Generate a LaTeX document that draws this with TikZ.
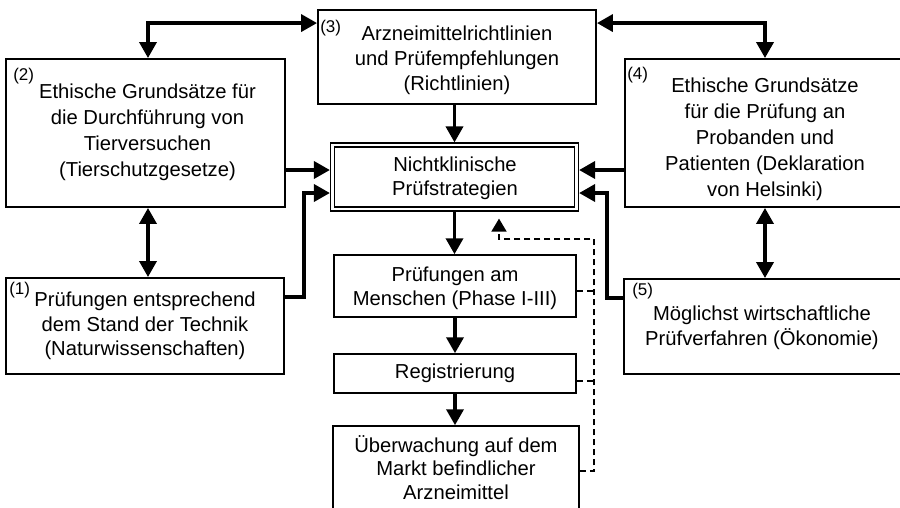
\documentclass[tikz,border=0pt]{standalone}
\usepackage{fontspec}
\setmainfont{Liberation Sans}
\usetikzlibrary{arrows.meta}

\begin{document}
\begin{tikzpicture}[x=1pt,y=-1pt,
  box/.style={draw, line width=1.9pt, inner sep=0pt},
  stage/.style={draw, line width=1.5pt, inner sep=0pt},
  core/.style={draw, line width=1.2pt, double, double distance=2.8pt, inner sep=0pt, outer sep=2.6pt},
  txt/.style={align=center, inner sep=0pt, font=\fontsize{20.2}{26}\selectfont},
  ctxt/.style={align=center, inner sep=0pt, font=\fontsize{20.2}{23.5}\selectfont},
  num/.style={anchor=north west, inner sep=0pt, font=\fontsize{17}{17}\selectfont},
  arr/.style={line width=3.6pt, -{Triangle[length=16pt,width=17pt]}},
  dbl/.style={line width=3.6pt, {Triangle[length=16pt,width=17pt]}-{Triangle[length=16pt,width=17pt]}},
  fb/.style={line width=1.8pt, dash pattern=on 6pt off 4pt},
  fbtip/.style={-{Triangle[length=13pt,width=15pt]}}]

\useasboundingbox (0,0) rectangle (900,507);
\clip (0,0) rectangle (900,507);

% frame boxes
\node[box, minimum width=279pt, minimum height=148pt] (b2) at (145.5,133) {};
\node[box, minimum width=278pt, minimum height=94pt]  (b3) at (457,57) {};
\node[box, minimum width=280pt, minimum height=148pt] (b4) at (765,133) {};
\node[box, minimum width=278pt, minimum height=96pt]  (b1) at (145,326) {};
\node[box, minimum width=281pt, minimum height=95pt]  (b5) at (764.5,326.5) {};

% central chain
\node[core,  minimum width=244pt, minimum height=64pt] (ns)  at (454.5,177) {};
\node[stage, minimum width=242pt, minimum height=62pt] (pm)  at (455,286) {};
\node[stage, minimum width=242pt, minimum height=39pt] (reg) at (455,373.5) {};
\node[stage, minimum width=246pt, minimum height=90pt] (ub)  at (456,471) {};

% texts
\node[txt] (t2) at (147.5,132.5) {Ethische Grundsätze für\\die Durchführung von\\Tierversuchen\\(Tierschutzgesetze)};
\node[txt, font=\fontsize{20.2}{25}\selectfont] (t3) at (457,60) {Arzneimittelrichtlinien\\und Prüfempfehlungen\\(Richtlinien)};
\node[txt] (t4) at (765,139.5) {Ethische Grundsätze\\für die Prüfung an\\Probanden und\\Patienten (Deklaration\\von Helsinki)};
\node[txt, font=\fontsize{20.2}{24.5}\selectfont] (t1) at (145,326) {Prüfungen entsprechend\\dem Stand der Technik\\(Naturwissenschaften)};
\node[txt, font=\fontsize{20.2}{25}\selectfont] (t5) at (762,327.5) {Möglichst wirtschaftliche\\Prüfverfahren (Ökonomie)};
\node[ctxt] (tn) at (455,178.5) {Nichtklinische\\Prüfstrategien};
\node[ctxt] (tp) at (455,288.5) {Prüfungen am\\Menschen (Phase I-III)};
\node[ctxt] (tr) at (455,373) {Registrierung};
\node[ctxt] (tu) at (456,467.5) {Überwachung auf dem\\Markt befindlicher\\Arzneimittel};

% numbers
\node[num] (l2) at ([xshift=8pt,yshift=-10pt]b2.north west) {(2)};
\node[num] (l3) at ([xshift=3pt,yshift=-11pt]b3.north west) {(3)};
\node[num] (l4) at ([xshift=3pt,yshift=-9pt]b4.north west) {(4)};
\node[num] (l1) at ([xshift=4pt,yshift=-5pt]b1.north west) {(1)};
\node[num] (l5) at ([xshift=9pt,yshift=-5pt]b5.north west) {(5)};

% mutual relations
\draw[dbl] ([xshift=2.5pt]b2.north) |- ([yshift=-14pt]b3.north west);
\draw[dbl] ([yshift=-14pt]b3.north east) -| (b4.north);
\draw[dbl] ([xshift=2.5pt]b2.south) -- ([xshift=2.5pt]b2.south |- b1.north);
\draw[dbl] (b4.south) -- (b4.south |- b5.north);

% inputs into the strategies
\coordinate (n2) at ([yshift=7pt]ns.west);
\coordinate (n1) at ([yshift=-16pt]ns.west);
\draw[arr] (b3.south -| ns.north) -- (ns.north);
\draw[arr] (n2 -| b2.east) -- (n2);
\draw[arr] (n2 -| b4.west) -- (n2 -| ns.east);
\draw[arr] ([yshift=29pt]b1.east) -- ++(19,0) |- (n1);
\draw[arr] ([yshift=28.5pt]b5.west) -- ++(-16,0) |- (n1 -| ns.east);

% chain downwards
\draw[arr] (ns.south) -- (ns.south |- pm.north);
\draw[arr] (pm.south) -- (pm.south |- reg.north);
\draw[arr] (reg.south) -- (reg.south |- ub.north);

% feedback
\coordinate (fbC) at (594,239);
\coordinate (p1) at ([yshift=-5pt]pm.east);
\coordinate (p2) at ([yshift=-7.5pt]reg.east);
\draw[fb] (p1) -- (p1 -| fbC);
\draw[fb] (p2) -- (p2 -| fbC);
\draw[fb, fbtip] (ub.east) -| (fbC) -| ([xshift=44.5pt,yshift=-7pt]ns.south);

\end{tikzpicture}
\end{document}
